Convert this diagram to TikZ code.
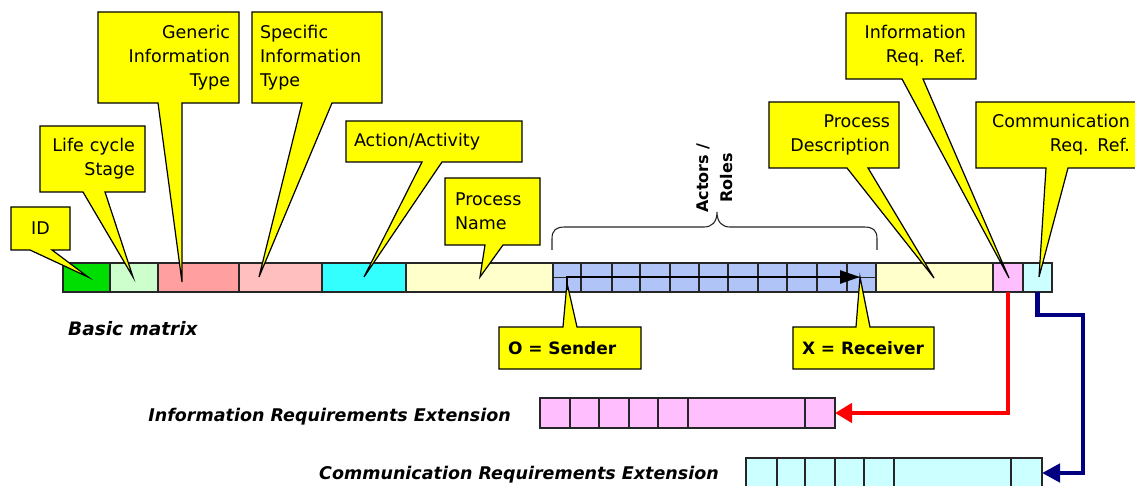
\documentclass[tikz,border=0pt]{standalone}
\usepackage{fontspec}
\setmainfont{DejaVu Sans}
\usetikzlibrary{arrows.meta,calc}
\pgfdeclarelayer{cells}
\pgfdeclarelayer{balloons}
\pgfsetlayers{cells,balloons,main}

\definecolor{callout}{HTML}{FFFF00}
\definecolor{cGreen}{HTML}{00DD00}
\definecolor{cLtGreen}{HTML}{CCFFCC}
\definecolor{cSalmon}{HTML}{FF9F9F}
\definecolor{cPink}{HTML}{FFBFBF}
\definecolor{cCyan}{HTML}{33FFFF}
\definecolor{cCream}{HTML}{FFFFCC}
\definecolor{cBlue}{HTML}{B0C4F8}
\definecolor{cMag}{HTML}{FFBFFF}
\definecolor{cLtCyan}{HTML}{CCFFFF}
\definecolor{cNavy}{HTML}{000080}
\definecolor{cRed}{HTML}{FF0000}

\tikzset{
  cell/.style={draw=black!85, line width=1.2pt, anchor=north west,
    inner sep=0pt, outer sep=0pt, minimum height=29pt},
  balloon/.style={fill=callout, draw=black, line width=1.2pt, line join=miter},
  btext/.style={anchor=north west, inner ysep=0pt, outer sep=0pt,
    font=\fontsize{17.5}{24}\selectfont},
  extlbl/.style={font=\bfseries\itshape\fontsize{17.5}{21}\selectfont,
    anchor=east, inner sep=0pt},
  link/.style={line width=4.5pt},
  bracepath/.style={draw=black!85, line width=1.1pt},
}

% one cell of a record bar: name, left x, right x, top y, fill
\newcommand\mcell[5]{%
  \node[cell, fill=#5, minimum width={(#3-#2)*1pt}] (#1) at (#2,#4) {};}

% callout text box: name, x1, y1, x2, y2, alignment, side margin, text
\newcommand\cbox[8]{%
  \pgfmathsetmacro\cbw{#4-#2-2*#7}%
  \node[btext, align=#6, inner xsep=#7pt, text width=\cbw pt,
    minimum width={(#4-#2)*1pt}, minimum height={(#5-#3)*1pt}] (#1) at (#2,#3) {#8};}

% balloon outline with its pointer on the lower edge: node, base left, base right, tip
\newcommand\tipdown[4]{%
  \draw[balloon] (#1.north west) -- (#1.north east) -- (#1.south east)
    -- ([xshift=#3pt]#1.south west) -- (#4) -- ([xshift=#2pt]#1.south west)
    -- (#1.south west) -- cycle;}

% balloon outline with its pointer on the upper edge
\newcommand\tipup[4]{%
  \draw[balloon] (#1.south west) -- (#1.north west)
    -- ([xshift=#2pt]#1.north west) -- (#4) -- ([xshift=#3pt]#1.north west)
    -- (#1.north east) -- (#1.south east) -- cycle;}

\begin{document}
\begin{tikzpicture}[x=1pt, y=-1pt]
\useasboundingbox (0,0) rectangle (1135,486);

\begin{pgfonlayer}{cells}
  \fill[white] (0,0) rectangle (1135,486);
  % basic matrix
  \mcell{id}{63}{110}{263}{cGreen}
  \mcell{life}{110}{158}{263}{cLtGreen}
  \mcell{gen}{158}{239}{263}{cSalmon}
  \mcell{spec}{239}{322}{263}{cPink}
  \mcell{act}{322}{406}{263}{cCyan}
  \mcell{pname}{406}{553}{263}{cCream}
  \foreach \a/\b [count=\i] in {553/581,581/612,612/640,640/670,670/699,
      699/728,728/758,758/787,787/817,817/847,847/876}
    \node[cell, fill=cBlue, minimum width={(\b-\a)*1pt}] (ar\i) at (\a,263) {};
  \draw[draw=black!85, line width=1.2pt] (ar1.west) -- (ar11.east);
  \mcell{pdesc}{876}{993}{263}{cCream}
  \mcell{iref}{993}{1023}{263}{cMag}
  \mcell{cref}{1023}{1052}{263}{cLtCyan}
  % information requirements extension
  \foreach \a/\b [count=\i] in {540/570,570/599,599/629,629/658,658/688,688/805,805/835}
    \node[cell, fill=cMag, minimum height=30pt, minimum width={(\b-\a)*1pt}] (ie\i) at (\a,398) {};
  % communication requirements extension
  \foreach \a/\b [count=\i] in {746/777,777/805,805/835,835/864,864/894,894/1011,1011/1042}
    \node[cell, fill=cLtCyan, minimum height=30pt, minimum width={(\b-\a)*1pt}] (ce\i) at (\a,458) {};
\end{pgfonlayer}

% pointer tips
\coordinate (pID) at (88,277);
\coordinate (pLife) at (133,277);
\coordinate (pGen) at (182,282);
\coordinate (pSpec) at (259,277);
\coordinate (pAct) at (364,277);
\coordinate (pPN) at (480,277);
\coordinate (pPD) at (934,278);
\coordinate (pIR) at (1009,278);
\coordinate (pCR) at (1039,277);
\coordinate (pSnd) at (567,283);
\coordinate (pRcv) at (860,277);
\coordinate (aStart) at (567,290);

% callout texts
\cbox{bID}{11}{207}{70}{250}{center}{5}{ID}
\cbox{bLife}{40}{126}{145}{192}{right}{10}{Life cycle\\Stage}
\cbox{bGen}{98}{12}{239}{103}{right}{9}{Generic\\Information\\Type}
\cbox{bSpec}{252}{12}{382}{103}{left}{8}{Specific\\Information\\Type}
\cbox{bAct}{346}{121}{522}{162}{left}{8}{Action/Activity}
\cbox{bPN}{445}{178}{540}{245}{left}{10}{Process\\Name}
\cbox{bPD}{769}{102}{899}{168}{right}{9}{Process\\Description}
\cbox{bIR}{846}{13}{976}{79}{right}{10}{Information\\Req. Ref.}
\cbox{bCR}{976}{102}{1140}{168}{right}{10}{Communication\\Req. Ref.}
\cbox{bSnd}{499}{327}{641}{369}{left}{9}{\bfseries\fontsize{17}{20}\selectfont O = Sender}
\cbox{bRcv}{793}{327}{934}{369}{left}{9}{\bfseries\fontsize{17}{20}\selectfont X = Receiver}

\begin{pgfonlayer}{balloons}
  \tipdown{bID}{19}{41}{pID}
  \tipdown{bLife}{43}{65}{pLife}
  \tipdown{bGen}{60}{84}{pGen}
  \tipdown{bSpec}{50}{80}{pSpec}
  \tipdown{bAct}{76}{96}{pAct}
  \tipdown{bPN}{40}{58}{pPN}
  \tipdown{bPD}{78}{99}{pPD}
  \tipdown{bIR}{56}{77}{pIR}
  \tipdown{bCR}{70}{92}{pCR}
  \tipup{bSnd}{64}{78}{pSnd}
  \tipup{bRcv}{63}{77}{pRcv}
\end{pgfonlayer}

% sender to receiver
\draw[line width=2.5pt, -{Triangle[length=20pt,width=13pt]}] (aStart) |- (pRcv);

% brace over the actor columns
\draw[bracepath] (552,250) -- (552,239) .. controls (552,230) and (556,227) .. (565,227)
  -- (704,227) .. controls (712,227) and (717,222) .. (717,212)
  .. controls (717,222) and (722,227) .. (730,227)
  -- (864,227) .. controls (873,227) and (877,230) .. (877,239) -- (877,250);
\node[font=\bfseries\fontsize{16}{24}\selectfont, rotate=90, align=center, inner sep=0pt]
  (actors) at (715,178) {Actors /\\Roles};

% labels
\node[font=\bfseries\itshape\fontsize{18.5}{22}\selectfont, anchor=west, inner sep=0pt]
  (basic) at (68,329) {Basic matrix};
\node[extlbl] (ieLbl) at (511,417) {Information Requirements Extension};
\node[extlbl] (ceLbl) at (719,475) {Communication Requirements Extension};

% links to the extensions
\draw[link, cRed, -{Triangle[length=17pt,width=19pt]}] (iref.south) |- (ie7.east);
\coordinate (cbend) at (1083,315);
\draw[link, cNavy, -{Triangle[length=18pt,width=18pt]}] (cref.south) |- (cbend) |- (ce7.east);
\end{tikzpicture}
\end{document}
